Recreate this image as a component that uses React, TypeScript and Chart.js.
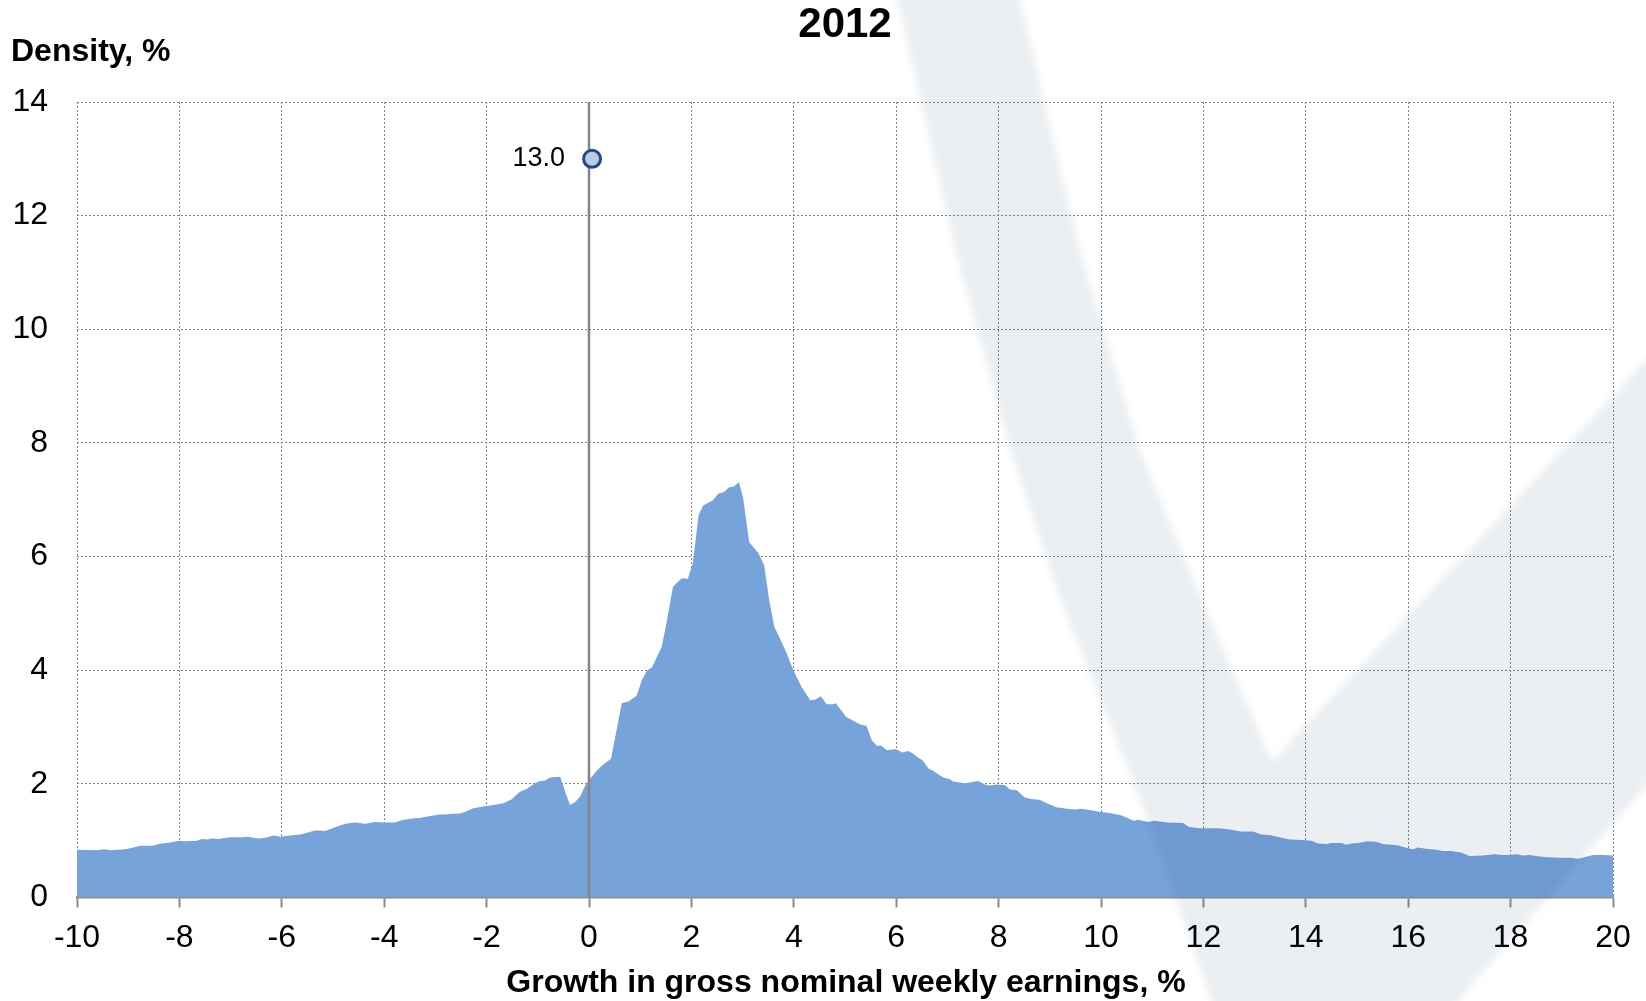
import React, { useEffect, useRef } from "react";
import { Chart, registerables } from "chart.js";

Chart.register(...registerables);

// Growth in gross nominal weekly earnings, % (x) and density, % (y)
const growth = [
  -10, -9.6, -9.48, -9.35, -9.05, -8.86, -8.76, -8.53, -8.4, -8.18,
  -8.01, -7.88, -7.66, -7.56, -7.46, -7.37, -7.24, -7.01, -6.75, -6.68,
  -6.45, -6.32, -6.16, -6.03, -5.83, -5.64, -5.47, -5.35, -5.25, -5.16,
  -5.06, -4.92, -4.76, -4.57, -4.37, -4.18, -3.98, -3.79, -3.66, -3.46,
  -3.3, -3.13, -2.91, -2.81, -2.72, -2.52, -2.39, -2.26, -2.06, -1.87,
  -1.67, -1.51, -1.35, -1.22, -1.12, -0.99, -0.86, -0.76, -0.66, -0.56,
  -0.47, -0.37, -0.27, -0.17, -0.08, 0.0, 0.15, 0.28, 0.43, 0.64,
  0.77, 0.93, 1.03, 1.13, 1.23, 1.42, 1.52, 1.64, 1.81, 1.93,
  2.03, 2.14, 2.23, 2.42, 2.53, 2.63, 2.74, 2.82, 2.93, 3.01,
  3.13, 3.31, 3.42, 3.52, 3.62, 3.73, 3.86, 3.99, 4.15, 4.32,
  4.41, 4.53, 4.64, 4.77, 4.82, 4.92, 5.02, 5.16, 5.29, 5.42,
  5.52, 5.62, 5.71, 5.82, 5.97, 6.02, 6.12, 6.23, 6.32, 6.4,
  6.52, 6.63, 6.72, 6.82, 6.92, 7.05, 7.11, 7.34, 7.47, 7.6,
  7.73, 7.83, 7.96, 8.12, 8.22, 8.35, 8.51, 8.67, 8.8, 8.94,
  9.13, 9.33, 9.49, 9.62, 9.78, 9.96, 10.14, 10.37, 10.5, 10.63,
  10.73, 10.92, 11.05, 11.28, 11.6, 11.72, 11.93, 12.12, 12.32, 12.48,
  12.74, 12.97, 13.13, 13.29, 13.49, 13.68, 13.95, 14.11, 14.24, 14.4,
  14.5, 14.7, 14.79, 14.89, 15.02, 15.21, 15.37, 15.51, 15.8, 15.9,
  16.09, 16.19, 16.35, 16.55, 16.68, 16.84, 17.03, 17.2, 17.46, 17.69,
  17.85, 17.98, 18.11, 18.24, 18.37, 18.5, 18.7, 18.96, 19.18, 19.31,
  19.44, 19.61, 19.8, 20.0,
];

const density = [
  0.84, 0.83, 0.85, 0.83, 0.85, 0.89, 0.91, 0.91, 0.94, 0.97,
  1.0, 0.99, 1.0, 1.03, 1.02, 1.04, 1.03, 1.06, 1.06, 1.07,
  1.04, 1.05, 1.09, 1.07, 1.09, 1.11, 1.15, 1.18, 1.18, 1.17,
  1.2, 1.25, 1.3, 1.32, 1.3, 1.33, 1.32, 1.32, 1.36, 1.39,
  1.4, 1.43, 1.46, 1.46, 1.47, 1.48, 1.52, 1.57, 1.6, 1.63,
  1.66, 1.73, 1.86, 1.91, 1.97, 2.04, 2.06, 2.11, 2.12, 2.12,
  1.87, 1.63, 1.68, 1.78, 1.96, 2.07, 2.23, 2.34, 2.44, 3.42,
  3.45, 3.55, 3.82, 3.99, 4.05, 4.41, 4.86, 5.47, 5.62, 5.61,
  5.89, 6.73, 6.9, 6.99, 7.11, 7.13, 7.22, 7.23, 7.31, 7.03,
  6.25, 6.06, 5.85, 5.23, 4.76, 4.56, 4.3, 4.0, 3.71, 3.47,
  3.48, 3.54, 3.4, 3.4, 3.42, 3.3, 3.18, 3.11, 3.05, 3.02,
  2.77, 2.67, 2.67, 2.59, 2.61, 2.6, 2.55, 2.58, 2.54, 2.48,
  2.41, 2.27, 2.23, 2.17, 2.11, 2.08, 2.04, 2.01, 2.03, 2.05,
  1.99, 1.97, 1.99, 1.98, 1.9, 1.89, 1.76, 1.73, 1.72, 1.66,
  1.59, 1.56, 1.55, 1.56, 1.54, 1.51, 1.49, 1.45, 1.41, 1.35,
  1.37, 1.33, 1.35, 1.32, 1.31, 1.24, 1.22, 1.22, 1.22, 1.2,
  1.16, 1.16, 1.11, 1.1, 1.06, 1.02, 1.01, 1.0, 0.95, 0.94,
  0.96, 0.96, 0.93, 0.95, 0.96, 0.99, 0.98, 0.94, 0.92, 0.89,
  0.85, 0.88, 0.86, 0.84, 0.82, 0.82, 0.79, 0.73, 0.74, 0.76,
  0.75, 0.75, 0.76, 0.74, 0.75, 0.73, 0.71, 0.7, 0.7, 0.68,
  0.71, 0.75, 0.75, 0.74,
];

// Share with exactly zero growth (off-distribution marker)
const zeroGrowthX = [0.06];
const zeroGrowthShare = [13.0];
const zeroGrowthLabel = ["13.0"];

const chartTitle = "2012";
const yAxisTitle = "Density, %";
const xAxisTitle = "Growth in gross nominal weekly earnings, %";

const FONT = "'Liberation Sans', Arial, Helvetica, sans-serif";

export default function App() {
  const canvasRef = useRef<HTMLCanvasElement | null>(null);

  useEffect(() => {
    const canvas = canvasRef.current;
    if (!canvas) return;

    const decorPlugin = {
      id: "decor",
      afterDatasetDraw(chart: any, args: any) {
        if (args.index !== 1) return;
        const { ctx, chartArea, scales } = chart;
        const x0 = scales.x.getPixelForValue(0);
        ctx.save();
        ctx.strokeStyle = "#858585";
        ctx.lineWidth = 2.5;
        ctx.beginPath();
        ctx.moveTo(x0, chartArea.top);
        ctx.lineTo(x0, chartArea.bottom);
        ctx.stroke();
        ctx.restore();
      },
      afterDraw(chart: any) {
        const { ctx, scales } = chart;
        // faint background logo watermark
        ctx.save();
        ctx.filter = "blur(3px)";
        ctx.fillStyle = "rgba(30,70,110,0.085)";
        ctx.beginPath();
        ctx.moveTo(895, -10);
        ctx.lineTo(955, 250);
        ctx.lineTo(1010, 450);
        ctx.lineTo(1060, 600);
        ctx.lineTo(1140, 800);
        ctx.lineTo(1215, 1010);
        ctx.lineTo(1450, 1010);
        ctx.lineTo(1660, 770);
        ctx.lineTo(1660, 345);
        ctx.lineTo(1272, 761);
        ctx.lineTo(1202, 600);
        ctx.lineTo(1140, 450);
        ctx.lineTo(1080, 250);
        ctx.lineTo(1018, -10);
        ctx.closePath();
        ctx.fill();
        ctx.restore();

        ctx.save();
        ctx.fillStyle = "#000";
        ctx.font = `bold 42px ${FONT}`;
        ctx.textAlign = "center";
        ctx.textBaseline = "middle";
        ctx.fillText(chartTitle, 845, 25);

        ctx.font = `bold 32px ${FONT}`;
        ctx.textAlign = "left";
        ctx.textBaseline = "alphabetic";
        ctx.fillText(yAxisTitle, 11, 61);

        ctx.textAlign = "center";
        ctx.fillText(xAxisTitle, 846, 992);

        ctx.font = `27px ${FONT}`;
        ctx.textAlign = "right";
        ctx.textBaseline = "middle";
        zeroGrowthX.forEach((gx, i) => {
          const px = scales.x.getPixelForValue(gx);
          const py = scales.y.getPixelForValue(zeroGrowthShare[i]);
          ctx.fillText(zeroGrowthLabel[i], px - 27, py);
        });
        ctx.restore();
      },
    };

    const chart = new Chart(canvas, {
      type: "line",
      data: {
        datasets: [
          {
            label: "Zero growth",
            data: zeroGrowthX.map((x, i) => ({ x, y: zeroGrowthShare[i] })),
            showLine: false,
            pointRadius: 8.5,
            pointBorderWidth: 3,
            pointBackgroundColor: "#b8cce4",
            pointBorderColor: "#1f4a85",
            order: 0,
          },
          {
            label: "Density",
            data: growth.map((x, i) => ({ x, y: density[i] })),
            fill: "origin",
            backgroundColor: "#77a3db",
            borderColor: "#77a3db",
            borderWidth: 0,
            pointRadius: 0,
            tension: 0,
            order: 1,
          },
        ],
      },
      options: {
        animation: false,
        responsive: true,
        maintainAspectRatio: false,
        layout: { padding: { top: 102, right: 33, left: 0, bottom: 0 } },
        plugins: {
          legend: { display: false },
          tooltip: { enabled: false },
          title: { display: false },
        },
        scales: {
          x: {
            type: "linear",
            min: -10,
            max: 20,
            afterFit: (scale: any) => {
              scale.height = 103.5;
            },
            ticks: {
              stepSize: 2,
              color: "#000",
              font: { family: FONT, size: 32 },
              padding: 11,
              maxRotation: 0,
            },
            grid: {
              color: "#858585",
              lineWidth: 1,
              drawTicks: true,
              tickLength: 10,
              tickColor: "#8a8a8a",
              tickWidth: 2,
            },
            border: { display: true, color: "#8a8a8a", width: 2.5, dash: [2, 2] },
          },
          y: {
            min: 0,
            max: 14,
            afterFit: (scale: any) => {
              scale.width = 77;
            },
            ticks: {
              stepSize: 2,
              color: "#000",
              font: { family: FONT, size: 32 },
              padding: 29,
            },
            grid: {
              color: "#858585",
              lineWidth: 1,
              drawTicks: false,
            },
            border: { display: false, dash: [2, 2] },
          },
        },
      },
      plugins: [decorPlugin],
    });

    return () => chart.destroy();
  }, []);

  return (
    <div style={{ position: "fixed", left: 0, top: 0, width: 1646, height: 1001, background: "#fff" }}>
      <canvas ref={canvasRef} />
    </div>
  );
}
